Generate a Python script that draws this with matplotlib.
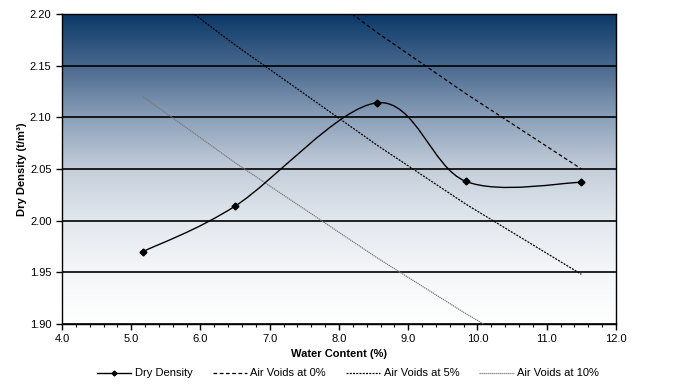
import numpy as np
import matplotlib
matplotlib.use("Agg")
import matplotlib.pyplot as plt
from matplotlib.path import Path
from matplotlib.patches import PathPatch
from matplotlib.lines import Line2D
from matplotlib.colors import LinearSegmentedColormap
from matplotlib.ticker import MultipleLocator, FormatStrFormatter

plt.rcParams['font.family'] = ['Liberation Sans', 'DejaVu Sans']

# data
water_content = [5.17, 6.50, 8.55, 9.83, 11.50]
dry_density = [1.970, 2.014, 2.114, 2.038, 2.037]
av_0 = [2.355, 2.284, 2.182, 2.123, 2.050]
av_5 = [2.237, 2.170, 2.073, 2.016, 1.948]
av_10 = [2.120, 2.056, 1.964, 1.910, 1.845]


# Excel style smoothed line -> cubic bezier path through the points
def smooth_path(xs, ys):
    pts = np.column_stack([xs, ys])
    n = len(pts)
    verts = [pts[0]]
    codes = [Path.MOVETO]
    for i in range(n - 1):
        p_prev = pts[i - 1] if i > 0 else pts[i]
        p_next2 = pts[i + 2] if i + 2 < n else pts[i + 1]
        c1 = pts[i] + (pts[i + 1] - p_prev) / 6
        c2 = pts[i + 1] - (p_next2 - pts[i]) / 6
        verts += [c1, c2, pts[i + 1]]
        codes += [Path.CURVE4] * 3
    return Path(verts, codes)


fig = plt.figure(figsize=(6.81, 3.87), dpi=100)
ax = fig.add_axes([0.091, 0.163, 0.8135, 0.801])

# gradient background (navy at top to white at bottom)
cmap = LinearSegmentedColormap.from_list("bg", [
    (0.0, "#ffffff"), (0.17, "#f4f6f8"), (0.33, "#e3e8ee"),
    (0.5, "#c4ceda"), (0.67, "#8a9fb8"), (0.83, "#4a6a8f"), (1.0, "#0b3868")])
grad = np.linspace(0, 1, 256).reshape(-1, 1)
ax.imshow(grad, cmap=cmap, origin="lower", aspect="auto",
          extent=[0, 1, 0, 1], transform=ax.transAxes, zorder=0)

ax.set_xlim(4.0, 12.0)
ax.set_ylim(1.90, 2.20)

ax.plot(water_content, av_0, color="black", lw=0.9, ls=(0, (3, 2)), zorder=3)
ax.plot(water_content, av_5, color="black", lw=0.9, ls=(0, (1.6, 1)), zorder=3)
ax.plot(water_content, av_10, color="#777777", lw=0.9, ls=(0, (1, 0.6)), zorder=3)

patch = PathPatch(smooth_path(water_content, dry_density), facecolor="none",
                  edgecolor="black", lw=1.0, zorder=4)
ax.add_patch(patch)
ax.plot(water_content, dry_density, ls="none", marker="D", ms=3.5,
        color="black", zorder=5)

ax.yaxis.grid(True, color="black", lw=1.2)
ax.set_axisbelow(False)
for s in ax.spines.values():
    s.set_color("black")
    s.set_linewidth(1.0)

ax.xaxis.set_major_locator(MultipleLocator(1.0))
ax.xaxis.set_minor_locator(MultipleLocator(0.2))
ax.xaxis.set_major_formatter(FormatStrFormatter("%.1f"))
ax.yaxis.set_major_locator(MultipleLocator(0.05))
ax.yaxis.set_major_formatter(FormatStrFormatter("%.2f"))
ax.tick_params(axis="both", which="major", direction="out", length=4,
               labelsize=8, width=1)
ax.tick_params(axis="x", which="minor", direction="out", length=2, width=0.8)

ax.set_xlabel("Water Content (%)", fontsize=8, fontweight="bold", labelpad=3)
ax.set_ylabel("Dry Density (t/m\u00b3)", fontsize=8, fontweight="bold", labelpad=2)

handles = [
    Line2D([], [], color="black", lw=1.0, marker="D", ms=2.5),
    Line2D([], [], color="black", lw=0.9, ls=(0, (3, 2))),
    Line2D([], [], color="black", lw=0.9, ls=(0, (1.6, 1))),
    Line2D([], [], color="#777777", lw=0.9, ls=(0, (1, 0.6))),
]
labels = ["Dry Density", "Air Voids at 0%", "Air Voids at 5%", "Air Voids at 10%"]
fig.legend(handles, labels, loc="center", bbox_to_anchor=(0.511, 0.035),
           ncol=4, frameon=False, fontsize=8, handlelength=3.1,
           columnspacing=1.8, handletextpad=0.3)

fig.savefig("out.png", dpi=100)
